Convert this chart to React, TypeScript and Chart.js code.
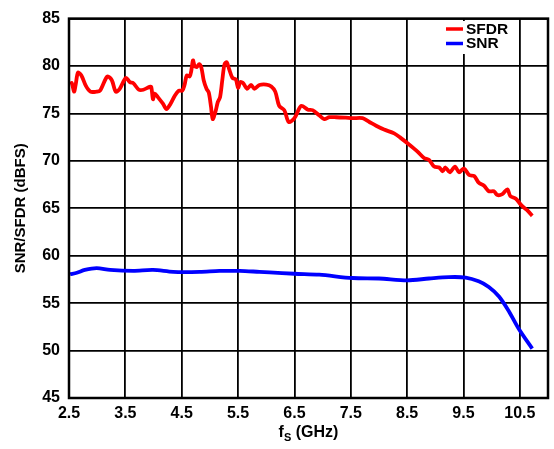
import React, { useEffect, useRef } from "react";
import { Chart, registerables } from "chart.js";

Chart.register(...registerables);

const sfdrFreq = [2.52, 2.55, 2.59, 2.62, 2.66, 2.72, 2.8, 2.88, 2.99, 3.05, 3.18, 3.26, 3.33, 3.4, 3.51, 3.58, 3.64, 3.74, 3.82, 3.93, 3.96, 3.99, 4.02, 4.08, 4.17, 4.23, 4.3, 4.38, 4.45, 4.51, 4.55, 4.59, 4.64, 4.67, 4.7, 4.73, 4.77, 4.81, 4.85, 4.89, 4.94, 4.98, 5.02, 5.05, 5.1, 5.14, 5.18, 5.22, 5.26, 5.3, 5.34, 5.4, 5.46, 5.5, 5.54, 5.59, 5.66, 5.73, 5.79, 5.88, 6.0, 6.09, 6.16, 6.23, 6.32, 6.4, 6.5, 6.62, 6.74, 6.82, 6.94, 7.03, 7.12, 7.24, 7.41, 7.53, 7.71, 7.83, 7.95, 8.09, 8.27, 8.39, 8.54, 8.68, 8.8, 8.89, 8.98, 9.07, 9.13, 9.18, 9.26, 9.35, 9.42, 9.51, 9.6, 9.69, 9.77, 9.86, 9.95, 10.04, 10.1, 10.19, 10.28, 10.33, 10.43, 10.53, 10.63, 10.72];
const sfdrValues = [78.1, 78.2, 77.3, 78.1, 79.3, 79.0, 77.9, 77.3, 77.3, 77.4, 78.9, 78.5, 77.3, 77.6, 78.75, 78.3, 78.2, 77.5, 77.5, 77.8, 77.8, 76.5, 77.1, 76.7, 76.0, 75.45, 76.0, 76.9, 77.4, 77.4, 78.0, 79.0, 78.9, 79.5, 80.6, 80.0, 79.9, 80.2, 79.8, 78.5, 77.6, 77.2, 75.7, 74.4, 75.2, 76.2, 76.7, 78.5, 80.2, 80.4, 79.7, 78.75, 78.6, 77.7, 78.3, 78.2, 77.6, 78.0, 77.6, 78.0, 78.05, 77.85, 77.3, 75.8, 75.35, 74.1, 74.5, 75.8, 75.4, 75.35, 74.8, 74.4, 74.6, 74.6, 74.55, 74.5, 74.5, 74.1, 73.7, 73.3, 72.9, 72.4, 71.7, 71.0, 70.3, 70.1, 69.4, 69.3, 68.9, 69.3, 68.8, 69.4, 68.8, 69.2, 68.5, 68.4, 67.7, 67.4, 66.8, 66.8, 66.4, 66.5, 67.0, 66.3, 66.0, 65.3, 64.8, 64.2];

const snrFreq = [2.52, 2.64, 2.78, 2.99, 3.23, 3.64, 3.99, 4.35, 4.82, 5.17, 5.53, 5.88, 6.06, 6.5, 6.94, 7.53, 8.0, 8.5, 8.89, 9.24, 9.54, 9.77, 9.95, 10.13, 10.3, 10.48, 10.72];
const snrValues = [58.05, 58.2, 58.5, 58.7, 58.5, 58.4, 58.5, 58.3, 58.3, 58.4, 58.4, 58.3, 58.25, 58.1, 58.0, 57.65, 57.6, 57.4, 57.6, 57.75, 57.7, 57.3, 56.7, 55.7, 54.2, 52.3, 50.2];

const xTickValues = [2.5, 3.5, 4.5, 5.5, 6.5, 7.5, 8.5, 9.5, 10.5, 11];
const xTickLabels = ["2.5", "3.5", "4.5", "5.5", "6.5", "7.5", "8.5", "9.5", "10.5", ""];

const seriesNames = ["SFDR", "SNR"];
const seriesColors = ["#ff0000", "#0000ff"];

const FONT = "'Liberation Sans', Arial, sans-serif";

const decorPlugin = {
  id: "decor",
  afterDraw(chart: any) {
    const { ctx, chartArea } = chart;
    const { left, right, top, bottom } = chartArea;
    ctx.save();
    // frame
    ctx.strokeStyle = "#000";
    ctx.lineWidth = 2.5;
    ctx.strokeRect(left, top, right - left, bottom - top);

    // y title
    ctx.fillStyle = "#000";
    ctx.font = `bold 15px ${FONT}`;
    ctx.textAlign = "center";
    ctx.textBaseline = "middle";
    ctx.save();
    ctx.translate(21, (top + bottom) / 2);
    ctx.rotate(-Math.PI / 2);
    ctx.fillText("SNR/SFDR (dBFS)", 0, 0);
    ctx.restore();

    // x title with subscript
    const cx = (left + right) / 2;
    const y = 433;
    ctx.textAlign = "left";
    ctx.textBaseline = "middle";
    ctx.font = `bold 16px ${FONT}`;
    const wF = ctx.measureText("f").width;
    const rest = " (GHz)";
    const wRest = ctx.measureText(rest).width;
    ctx.font = `bold 11px ${FONT}`;
    const wS = ctx.measureText("S").width;
    const total = wF + wS + wRest;
    let x = cx - total / 2;
    ctx.font = `bold 16px ${FONT}`;
    ctx.fillText("f", x, y);
    x += wF;
    ctx.font = `bold 11px ${FONT}`;
    ctx.fillText("S", x, y + 5);
    x += wS;
    ctx.font = `bold 16px ${FONT}`;
    ctx.fillText(rest, x, y);

    // legend
    ctx.fillStyle = "#fff";
    ctx.fillRect(444, 21, 70, 33);
    ctx.font = `bold 15.5px ${FONT}`;
    ctx.textBaseline = "middle";
    ctx.textAlign = "left";
    seriesNames.forEach((name, i) => {
      const ly = 29 + i * 14.5;
      ctx.strokeStyle = seriesColors[i];
      ctx.lineWidth = 3.5;
      ctx.beginPath();
      ctx.moveTo(446, ly);
      ctx.lineTo(463, ly);
      ctx.stroke();
      ctx.fillStyle = "#000";
      ctx.fillText(name, 466, ly + 0.5);
    });
    ctx.restore();
  },
};

export default function App() {
  const ref = useRef<HTMLCanvasElement>(null);
  useEffect(() => {
    if (!ref.current) return;
    const chart = new Chart(ref.current, {
      type: "line",
      data: {
        datasets: [
          {
            label: seriesNames[0],
            data: sfdrFreq.map((f, i) => ({ x: f, y: sfdrValues[i] })),
            borderColor: seriesColors[0],
            borderWidth: 3.8,
            pointRadius: 0,
            tension: 0.3,
            fill: false,
          },
          {
            label: seriesNames[1],
            data: snrFreq.map((f, i) => ({ x: f, y: snrValues[i] })),
            borderColor: seriesColors[1],
            borderWidth: 3.8,
            pointRadius: 0,
            tension: 0.3,
            fill: false,
          },
        ],
      },
      options: {
        responsive: false,
        animation: false,
        devicePixelRatio: 1,
        layout: { padding: { top: 14, right: 5, left: 0, bottom: 0 } },
        plugins: {
          legend: { display: false },
          tooltip: { enabled: false },
          title: { display: false },
        },
        scales: {
          x: {
            type: "linear",
            min: 2.5,
            max: 11,
            afterBuildTicks: (scale: any) => {
              scale.ticks = xTickValues.map((v) => ({ value: v }));
            },
            afterFit: (scale: any) => {
              scale.height = 51;
            },
            grid: { color: "#000", lineWidth: 1.8, drawTicks: false },
            border: { display: false },
            ticks: {
              autoSkip: false,
              maxRotation: 0,
              padding: 6,
              color: "#000",
              font: { family: FONT, size: 16, weight: "bold" },
              callback: (v: any) => {
                const idx = xTickValues.indexOf(Number(v));
                return idx >= 0 ? xTickLabels[idx] : "";
              },
            },
          },
          y: {
            type: "linear",
            min: 45,
            max: 85,
            afterFit: (scale: any) => {
              scale.width = 69;
            },
            grid: { color: "#000", lineWidth: 1.8, drawTicks: false },
            border: { display: false },
            ticks: {
              stepSize: 5,
              padding: 9,
              color: "#000",
              font: { family: FONT, size: 16, weight: "bold" },
            },
          },
        },
      },
      plugins: [decorPlugin],
    });
    return () => chart.destroy();
  }, []);
  return (
    <div style={{ position: "absolute", left: 0, top: 0, width: 554, height: 449, background: "#fff" }}>
      <canvas ref={ref} width={554} height={449} style={{ display: "block" }} />
    </div>
  );
}
